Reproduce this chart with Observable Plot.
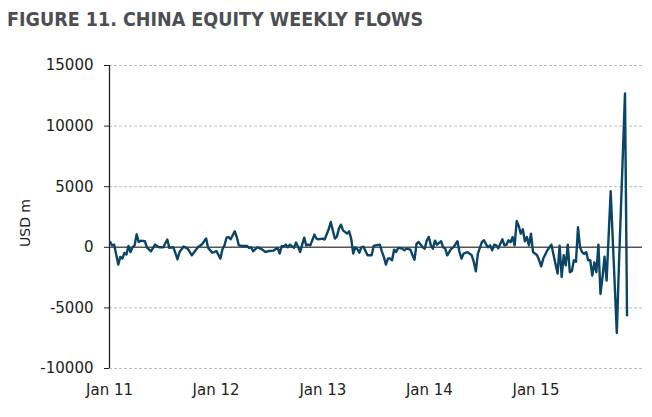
<!DOCTYPE html>
<html>
<head>
<meta charset="utf-8">
<script src="https://cdn.jsdelivr.net/npm/d3@7"></script>
<script src="https://cdn.jsdelivr.net/npm/@observablehq/plot@0.6"></script>
<style>
  html, body { margin: 0; padding: 0; background: #fff; }
  #wrap { width: 652px; height: 417px; position: relative; overflow: hidden; }
  #title { box-sizing: border-box; height: 45px; padding: 10px 0 0 7px; line-height: 20px;
           font-family: "DejaVu Sans Condensed", "DejaVu Sans", sans-serif; font-weight: bold;
           font-size: 19.5px; color: #4d4e52; white-space: nowrap; }
  #chart svg { display: block; }
</style>
</head>
<body>
<div id="wrap">
  <div id="title">FIGURE 11. CHINA EQUITY WEEKLY FLOWS</div>
  <div id="chart"></div>
</div>
<script>
// Week number (weeks since first week of Jan 2011) and weekly flow, USD m
const weeks = [
  0,1,2,4,5,6,7,8,9,10,11,12,13,14,15,17,18,20,22,24,26,28,29,31,33,34,36,38,40,43,45,47,48,50,
  51,52,54,55,56,57,58,59,61,62,63,65,67,68,69,70,72,73,75,76,78,80,82,83,84,85,86,87,88,90,91,92,93,94,95,96,97,98,100,101,102,
  104,105,107,108,110,111,112,113,114,116,117,118,119,120,121,122,123,124,126,128,129,130,132,133,134,135,136,137,138,139,140,141,143,144,145,147,148,149,150,151,153,154,155,156,
  157,158,159,160,162,163,164,165,167,168,170,171,172,173,175,177,178,179,180,182,183,184,185,186,187,188,189,190,192,193,194,195,196,197,198,199,200,201,202,203,204,205,206,207,209,
  210,211,212,214,215,216,217,219,220,221,222,223,224,225,226,227,228,229,230,231,232,233,234,235,236,237,238,239,240,241,242,243,245,248,249,252,253
];
const flows = [
  440,160,220,-1430,-800,-930,-470,-600,110,-390,0,160,1070,440,550,500,0,-330,220,0,0,640,-50,0,-990,-390,60,-110,-660,0,250,720,-50,-440,
  -390,-300,-930,-160,160,800,850,660,1320,850,160,110,110,-50,0,-330,0,-50,-250,-390,-300,-270,-50,-520,110,80,220,0,220,-30,390,50,-390,220,800,160,220,160,1050,720,660,
  720,640,1490,2090,720,880,1540,1870,1400,1130,1320,720,-520,0,-160,-440,0,50,-660,-660,110,160,220,-330,-800,-1430,-930,-930,-1070,-190,-390,-50,-110,-250,-110,-190,-660,-1020,300,440,0,-110,580,850,
  160,-110,550,220,500,0,-80,-660,-110,0,500,-390,-930,-520,-400,-660,-1210,-1980,-520,440,580,250,0,160,-250,220,160,-80,660,160,220,580,420,850,160,2170,1760,1130,1490,500,850,160,1130,-390,-660,
  -1070,-1570,-930,-250,0,220,-600,-2170,140,-2450,-660,-1490,220,-2060,-1950,-1070,-1200,1650,0,-400,-550,-400,-1070,-1070,-2340,-1240,-2060,220,-3850,-2450,-770,-2750,4630,-7070,-1650,12700,-5610
];
const yTicks = [-10000, -5000, 0, 5000, 10000, 15000];
const gridValues = [-10000, -5000, 5000, 10000, 15000];
const xTickYears = [2011, 2012, 2013, 2014, 2015];
const xTickLabels = ["Jan 11", "Jan 12", "Jan 13", "Jan 14", "Jan 15"];
const yLabel = "USD m";

const start = Date.UTC(2011, 0, 3);
const data = weeks.map((w, i) => ({date: new Date(start + w * 7 * 864e5), value: flows[i]}));
const xStart = new Date(Date.UTC(2011, 0, 1));
const xEnd = new Date(Date.UTC(2016, 0, 1));
const xTicks = xTickYears.map(y => new Date(Date.UTC(y, 0, 1)));

const chart = Plot.plot({
  width: 652,
  height: 372,
  marginLeft: 109,
  marginRight: 10,
  marginTop: 20,
  marginBottom: 49,
  style: {fontFamily: "'DejaVu Sans', Verdana, sans-serif", fontSize: "15px", color: "#222", background: "#fff"},
  x: {type: "utc", domain: [xStart, xEnd]},
  y: {domain: [-10000, 15000]},
  marks: [
    Plot.ruleY(gridValues, {stroke: "#bcbcbc", strokeWidth: 1, strokeDasharray: "3,2"}),
    Plot.ruleY([0], {stroke: "#555", strokeWidth: 1.5}),
    Plot.ruleX([xStart], {stroke: "#222", strokeWidth: 1.3}),
    Plot.axisY({ticks: yTicks, tickSize: 5, tickPadding: 11, stroke: "#222",
      tickFormat: d => String(d), label: null}),
    Plot.text([yLabel], {frameAnchor: "left", rotate: -90, dx: -84, dy: 6,
      fontSize: 14, fill: "#222", textAnchor: "middle"}),
    Plot.axisX({ticks: xTicks, tickSize: 0, tickPadding: 16,
      tickFormat: d => xTickLabels[xTickYears.indexOf(d.getUTCFullYear())], label: null}),
    Plot.line(data, {x: "date", y: "value", stroke: "#0b4566", strokeWidth: 2.4, strokeLinejoin: "round"})
  ]
});
document.getElementById("chart").appendChild(chart);
</script>
</body>
</html>
